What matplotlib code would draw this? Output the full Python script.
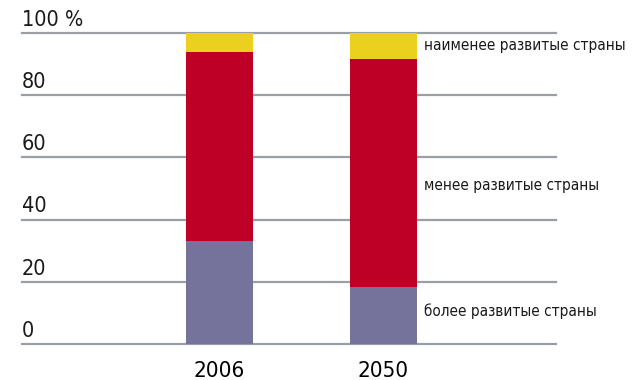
import matplotlib.pyplot as plt
import matplotlib.transforms as mtransforms
import numpy as np

years = ["2006", "2050"]
more_dev = [33.0, 18.4]
less_dev = [61.0, 73.2]
least_dev = [6.0, 8.4]
group_names = ["более развитые страны", "менее развитые страны", "наименее развитые страны"]
yticks = [0, 20, 40, 60, 80, 100]
ytick_labels = ["0", "20", "40", "60", "80", "100 %"]

c_more = "#75739b"
c_less = "#bf0026"
c_least = "#ebd01e"
c_grid = "#9a9fa5"

plt.rcParams['font.family'] = ['DejaVu Sans']
plt.rcParams['font.stretch'] = 'condensed'

fig = plt.figure(figsize=(6.35, 3.8), dpi=100)
ax = fig.add_axes([22/635, 36/380, 534/635, 311/380])

x = np.arange(len(years))
w = 0.409
more = np.array(more_dev)
less = np.array(less_dev)
least = np.array(least_dev)

# gridlines under the bars
for v in yticks:
    ax.axhline(v, color=c_grid, lw=1.6, zorder=1, clip_on=False)

ax.bar(x, more, w, color=c_more, zorder=2)
ax.bar(x, less, w, bottom=more, color=c_less, zorder=2)
ax.bar(x, least, w, bottom=more + less, color=c_least, zorder=2)

ax.set_xlim(-1.204, 2.052)
ax.set_ylim(0, 100)
for s in ax.spines.values():
    s.set_visible(False)
ax.set_yticks([])
ax.set_xticks(x)
ax.set_xticklabels(years, fontsize=16, fontstretch='condensed')
ax.tick_params(axis='x', length=0, pad=12)

# y labels sit on top of gridlines, left aligned
trans = mtransforms.blended_transform_factory(ax.transAxes, ax.transData)
for v, lab in zip(yticks, ytick_labels):
    ax.text(0.0, v + 1.0, lab, transform=trans, ha='left', va='bottom',
            fontsize=15.5, fontstretch='condensed', color='#1a1a1a')

# series names to the right of the 2050 bar
label_y = [10.6, 51.1, 96.1]
for name, yy in zip(group_names, label_y):
    ax.text(1.247, yy, name, ha='left', va='center', fontsize=11,
            fontstretch='condensed', color='#1a1a1a', clip_on=False)

fig.savefig("out.png", dpi=100)
